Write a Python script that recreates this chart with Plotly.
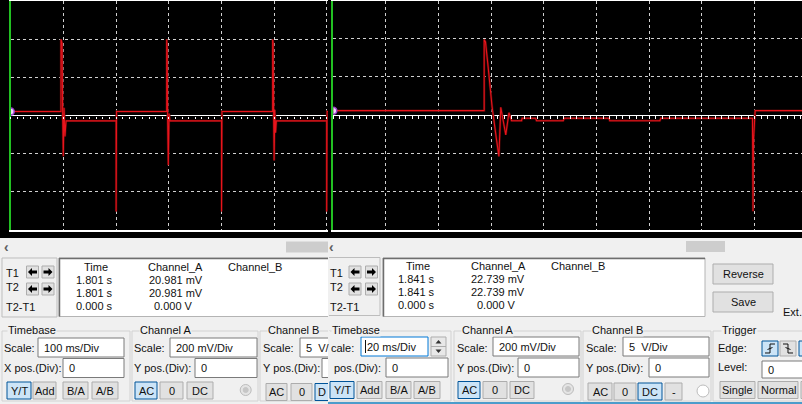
import plotly.graph_objects as go

W, H = 802, 404

# left screen: 100 ms/Div, 200 mV/Div  (time in ms, Channel_A in mV)
left_t = [0, 95.4, 95.4, 97.5, 98.5, 99.8, 101.2, 103, 105, 200, 200, 200.8,
          296, 296, 297, 297.5, 299, 300.5, 302, 400, 400, 400.8,
          497, 497, 498, 498.8, 499.8, 501, 502.5, 504, 599.5, 599.5, 600.3, 602]
left_v = [21, 21, 399, 380, 30, -214, 40, -110, -28, -28, -503, 21,
          21, 399, 350, 60, -261, 10, -28, -28, -503, 21,
          21, 399, 380, 40, -236, 30, -90, -28, -28, -503, 21, 21]

# right screen: 20 ms/Div, 200 mV/Div
right_t = [0, 57.3, 57.3, 57.8, 58.8, 60.3, 62.0, 62.9, 63.6, 64.8, 65.5, 66.7, 67.7,
           71.5, 71.7, 76.8, 77.2, 87.3, 87.7, 104.7, 105.0, 124.0, 124.4,
           159.2, 159.4, 159.6, 160.2, 178]
right_v = [22.7, 22.7, 395, 383, 252, 43, -130, -217, 40, -61, -104, 12, -30,
           -30, -17, -17, -30, -30, -17, -17, -30, -30, -17,
           -17, -504, -130, 22.7, 22.7]

# cursor readouts
left_time = ["1.801 s", "1.801 s", "0.000 s"]
left_cha = ["20.981 mV", "20.981 mV", "0.000 V"]
right_time = ["1.841 s", "1.841 s", "0.000 s"]
right_cha = ["22.739 mV", "22.739 mV", "0.000 V"]
left_marker = 20.981
right_marker = 22.739

left_scales = ["100 ms/Div", "200 mV/Div", "5  V/"]
right_scales = ["20 ms/Div", "200 mV/Div", "5  V/Div"]

FONT = "Liberation Sans, Arial, sans-serif"
PANEL = "#f0f0f0"

shapes = []
notes = []


def X(p):
    return p / W


def Y(p):
    return 1 - p / H


def rect(x0, y0, x1, y1, fill="rgba(0,0,0,0)", line=None, lw=1, layer="above"):
    shapes.append(dict(type="rect", xref="paper", yref="paper",
                       x0=X(x0), x1=X(x1), y0=Y(y1), y1=Y(y0), fillcolor=fill,
                       line=dict(color=line or "rgba(0,0,0,0)", width=lw if line else 0),
                       layer=layer))


def seg(x0, y0, x1, y1, color, lw=1):
    shapes.append(dict(type="line", xref="paper", yref="paper",
                       x0=X(x0), x1=X(x1), y0=Y(y0), y1=Y(y1),
                       line=dict(color=color, width=lw)))


def poly(pts, fill=None, line=None, close=True):
    p = "M " + " L ".join(f"{X(a):.5f},{Y(b):.5f}" for a, b in pts) + (" Z" if close else "")
    shapes.append(dict(type="path", xref="paper", yref="paper", path=p,
                       fillcolor=fill or "rgba(0,0,0,0)",
                       line=dict(color=line or "rgba(0,0,0,0)", width=1 if line else 0)))


def circle(cx, cy, r, fill, line):
    shapes.append(dict(type="circle", xref="paper", yref="paper",
                       x0=X(cx - r), x1=X(cx + r), y0=Y(cy + r), y1=Y(cy - r),
                       fillcolor=fill, line=dict(color=line, width=1)))


def text(x, y, s, anchor="left", size=11, color="#111", bg=None):
    d = dict(xref="paper", yref="paper", x=X(x), y=Y(y), text=s, showarrow=False,
             xanchor=anchor, yanchor="middle", font=dict(family=FONT, size=size, color=color),
             borderpad=0)
    if bg:
        d["bgcolor"] = bg
    notes.append(d)


def button(x0, y0, x1, y1, label, sel=False):
    rect(x0, y0, x1, y1, "#cce4f7" if sel else "#e1e1e1", "#005499" if sel else "#adadad")
    if label:
        text((x0 + x1) / 2, (y0 + y1) / 2, label, "center")


def entry(x0, y0, x1, y1, val, focus=False):
    rect(x0, y0, x1, y1, "white", "#0078d7" if focus else "#7a7a7a")
    if val:
        text(x0 + 5, (y0 + y1) / 2, val)


def group(x0, y0, x1, y1, label, lx):
    rect(x0, y0, x1, y1, line="#d2d2d2")
    text(lx, y0 - 1, label, bg=PANEL)


def arrow(cx, cy, left):
    s = -1 if left else 1
    pts = [(cx + 4.5 * s, cy), (cx + 0.5 * s, cy - 4), (cx + 0.5 * s, cy - 1.5),
           (cx - 4.5 * s, cy - 1.5), (cx - 4.5 * s, cy + 1.5), (cx + 0.5 * s, cy + 1.5),
           (cx + 0.5 * s, cy + 4)]
    poly(pts, fill="black")


def tgroup(x0, bx, dx):
    for row, yy in enumerate([266, 283]):
        for k in range(2):
            button(bx + k * dx, yy, bx + k * dx + 12, yy + 12, "")
            arrow(bx + k * dx + 6, yy + 6, k == 0)
    text(x0, 272.5, "T1")
    text(x0, 286.5, "T2")
    text(x0, 307, "T2-T1")


def readout(x0, x1, cols, times, cha, rows):
    rect(x0, 258, x1, 316.5, "white", "#b4b4b4")
    seg(x0, 258.5, x1, 258.5, "#6e6e6e", 1.5)
    seg(x0 + 0.5, 258, x0 + 0.5, 316.5, "#6e6e6e", 1.5)
    text(cols[0], rows[0], "Time", "center")
    text(cols[1], rows[0], "Channel_A", "center")
    text(cols[2], rows[0], "Channel_B", "center")
    for i in range(3):
        text(cols[0] - 1.5, rows[i + 1], times[i], "center")
        text(cols[1] - (2 if i == 2 else 0), rows[i + 1], cha[i], "center")


# ---- screens background
rect(0, 0, W, 238, "black", layer="below")

# ---- left panel
text(7, 247, "<b>‹</b>", "center", 14, "#606060")
rect(286, 241.5, 328, 252.5, "#cdcdcd")
rect(2, 258, 57, 317, line="#bdbdbd")
tgroup(5, 26.5, 15.5)
readout(59, 345, [95.7, 175.7, 255], left_time, left_cha, [267, 280, 293.3, 306])

group(2, 331, 130, 401, "Timebase", 7)
text(3, 347.5, "Scale:")
entry(38, 338, 124, 357, left_scales[0])
text(3, 368, "X pos.(Div):")
entry(63, 358.5, 124, 377.5, "0")
for lab, a, b, s in [("Y/T", 7, 31, True), ("Add", 33, 56, False), ("B/A", 63, 88, False), ("A/B", 92, 118, False)]:
    button(a, 382, b, 399, lab, s)

group(132, 331, 258, 401, "Channel A", 139)
text(133, 347.5, "Scale:")
entry(170, 338, 257, 357, left_scales[1])
text(133, 368, "Y pos.(Div):")
entry(195, 358.5, 257, 377.5, "0")
for lab, a, b, s in [("AC", 135, 157, True), ("0", 160, 183, False), ("DC", 187, 213, False)]:
    button(a, 382, b, 399, lab, s)
circle(245.7, 390, 5.5, "#e4e4e4", "#bcbcbc")
circle(245.7, 390, 2.5, "#c6c6c6", "#c6c6c6")

group(260, 331, 345, 401, "Channel B", 267)
text(262, 347.5, "Scale:")
entry(300, 338, 345, 357, left_scales[2])
text(262, 368, "Y pos.(Div):")
entry(322, 358.5, 345, 377.5, "")
button(266, 383.5, 287, 400.5, "AC")
button(291, 383.5, 312, 400.5, "0")
button(315, 383.5, 345, 400.5, "", True)
text(317, 392, "D")

# ---- right panel (covers what the left capture cut off)
rect(328, 238, W, 404, PANEL)
text(331, 247, "<b>‹</b>", "center", 14, "#606060")
rect(686, 241, 725, 252, "#cdcdcd")
seg(329, 257.5, 380, 257.5, "#bdbdbd")
seg(380, 257.5, 380, 315.5, "#bdbdbd")
seg(329, 315.5, 380, 315.5, "#bdbdbd")
tgroup(328.5, 349, 16.5)
readout(383, 705, [418.3, 498.3, 578], right_time, right_cha, [266, 278.5, 291.7, 305])
button(713, 264, 773, 284, "Reverse")
button(713, 292, 773, 312, "Save")
text(782, 312, "Ext.")

group(329, 331, 451, 401, "Timebase", 331)
seg(329, 331, 329, 401, PANEL, 2)
text(330, 347.5, "cale:")
entry(361, 337, 428, 356, right_scales[0], True)
seg(365.5, 340, 365.5, 353, "#111", 1)
rect(431, 337, 446, 356, "#e8e8e8", "#adadad")
seg(431, 346.5, 446, 346.5, "#adadad")
poly([(435.5, 343.5), (441.5, 343.5), (438.5, 340)], fill="#333")
poly([(435.5, 349.5), (441.5, 349.5), (438.5, 353)], fill="#333")
text(333, 367.5, "pos.(Div):")
entry(386, 358, 448, 377, "0")
for lab, a, b, s in [("Y/T", 330, 354, True), ("Add", 357, 382, False), ("B/A", 386, 411, False), ("A/B", 414, 440, False)]:
    button(a, 381.5, b, 398.5, lab, s)

group(454, 331, 581, 401, "Channel A", 461)
text(456, 347.5, "Scale:")
entry(493, 337, 579, 356, right_scales[1])
text(456, 367.5, "Y pos.(Div):")
entry(518, 358, 579, 377, "0")
for lab, a, b, s in [("AC", 458, 480, True), ("0", 483, 507, False), ("DC", 510, 534, False)]:
    button(a, 381.5, b, 398.5, lab, s)
circle(568, 389, 5.5, "#e4e4e4", "#bcbcbc")
circle(568, 389, 2.5, "#c6c6c6", "#c6c6c6")

group(583, 331, 711, 401, "Channel B", 591)
text(585, 347.5, "Scale:")
entry(623, 337, 709, 356, right_scales[2])
text(585, 367.5, "Y pos.(Div):")
entry(649, 358, 709, 377, "0")
for lab, a, b, s in [("AC", 588, 612, False), ("0", 614, 636, False), ("DC", 638, 662, True), ("-", 665, 682, False)]:
    button(a, 383, b, 400, lab, s)
circle(703, 391, 6, "white", "#bcbcbc")

group(713, 331, 812, 401, "Trigger", 721)
text(717, 347.5, "Edge:")
button(762, 341, 778, 356, "", True)
poly([(765, 353), (770, 353), (770, 344), (775, 344)], line="#111", close=False)
poly([(767.5, 349.5), (772.5, 347.5)], line="#111", close=False)
button(780, 341, 796, 356, "")
poly([(783, 344), (788, 344), (788, 353), (793, 353)], line="#111", close=False)
poly([(785.5, 347.5), (790.5, 349.5)], line="#111", close=False)
button(799, 341, 812, 356, "", True)
text(717, 366.5, "Level:")
entry(762, 361, 812, 378, "0")
button(720, 381.5, 755, 398.5, "Single")
button(758, 381.5, 798, 398.5, "Normal")
button(801, 381.5, 812, 398.5, "")
seg(328, 403, W, 403, "#4b9ccb", 2)

# ---- traces
RED = "#e8141c"
HALO = "#4a0606"
fig = go.Figure()
fig.add_trace(go.Scatter(x=left_t, y=left_v, mode="lines", line=dict(color=HALO, width=2.4),
                         xaxis="x", yaxis="y", hoverinfo="skip"))
fig.add_trace(go.Scatter(x=left_t, y=left_v, mode="lines", line=dict(color=RED, width=1.1),
                         xaxis="x", yaxis="y"))
fig.add_trace(go.Scatter(x=[0], y=[left_marker], mode="markers", xaxis="x", yaxis="y",
                         marker=dict(symbol="circle", size=7, color="#f0d8f8",
                                     line=dict(color="#a040d0", width=1.5))))
fig.add_trace(go.Scatter(x=right_t, y=right_v, mode="lines", line=dict(color=HALO, width=2.4),
                         xaxis="x2", yaxis="y2", hoverinfo="skip"))
fig.add_trace(go.Scatter(x=right_t, y=right_v, mode="lines", line=dict(color=RED, width=1.1),
                         xaxis="x2", yaxis="y2"))
fig.add_trace(go.Scatter(x=[0], y=[right_marker], mode="markers", xaxis="x2", yaxis="y2",
                         marker=dict(symbol="circle", size=7, color="#f0d8f8",
                                     line=dict(color="#a040d0", width=1.5))))
# carriers for the small ticks on the centre line
fig.add_trace(go.Scatter(x=[], y=[], xaxis="x3", yaxis="y"))
fig.add_trace(go.Scatter(x=[], y=[], xaxis="x4", yaxis="y2"))

grid = dict(showgrid=True, gridcolor="#d0d0d0", griddash="3px,3px", gridwidth=1,
            showticklabels=False, ticks="", fixedrange=True)

fig.update_layout(
    width=W, height=H, autosize=False,
    margin=dict(l=0, r=0, t=0, b=0),
    paper_bgcolor=PANEL, plot_bgcolor="rgba(0,0,0,0)",
    showlegend=False,
    xaxis=dict(domain=[X(10.7), X(328)], range=[0, 602], tick0=0, dtick=100, anchor="y",
               showline=True, mirror=True, linecolor="white", linewidth=1.5, zeroline=False, **grid),
    yaxis=dict(domain=[Y(230), Y(1)], range=[-600, 600], tick0=0, dtick=200, anchor="x",
               showline=True, linecolor="#22c022", linewidth=1.5,
               zeroline=True, zerolinecolor="white", zerolinewidth=1.3, **grid),
    xaxis2=dict(domain=[X(333.3), 1], range=[0, 178], tick0=0, dtick=20, anchor="y2",
                showline=True, mirror=True, linecolor="white", linewidth=1.5, zeroline=False, **grid),
    yaxis2=dict(domain=[Y(229.5), Y(0.5)], range=[-600, 600], tick0=0, dtick=200, anchor="x2",
                showline=True, linecolor="#22c022", linewidth=1.5,
                zeroline=True, zerolinecolor="white", zerolinewidth=1.3, **grid),
    xaxis3=dict(overlaying="x", anchor="free", position=Y(115.9), side="bottom",
                range=[0, 602], tick0=0, dtick=12.5, ticks="outside", ticklen=2.5,
                tickcolor="white", tickwidth=1, showticklabels=False, showgrid=False,
                zeroline=False, showline=False, fixedrange=True),
    xaxis4=dict(overlaying="x2", anchor="free", position=Y(115.4), side="bottom",
                range=[0, 178], tick0=0, dtick=2.5, ticks="outside", ticklen=2.5,
                tickcolor="white", tickwidth=1, showticklabels=False, showgrid=False,
                zeroline=False, showline=False, fixedrange=True),
    shapes=shapes,
    annotations=notes,
)

# the page's default 8px body margin would shift the whole picture
fig.write_html("out.html", config={"displayModeBar": False},
               post_script="document.body.style.margin='0';document.body.style.overflow='hidden';")
